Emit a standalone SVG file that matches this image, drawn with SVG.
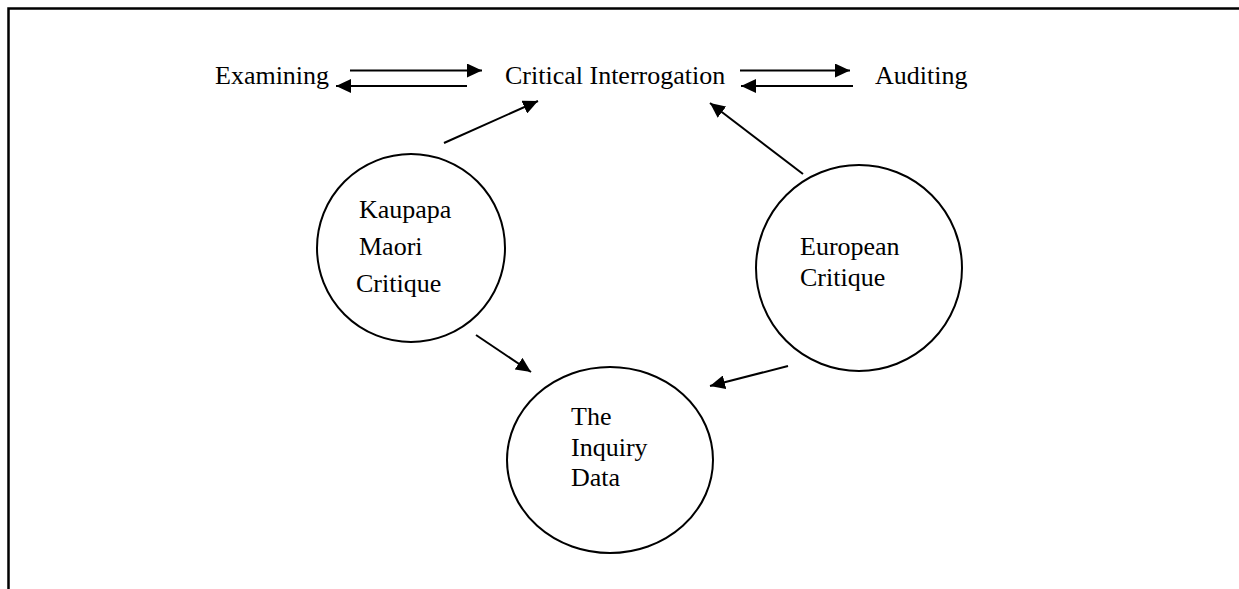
<svg xmlns="http://www.w3.org/2000/svg" width="1239" height="589" viewBox="0 0 1239 589">
<defs>
<marker id="ah" markerUnits="userSpaceOnUse" markerWidth="16" markerHeight="14" refX="15" refY="7" orient="auto">
<path d="M0,0 L15,7 L0,14 Z" fill="#000"/>
</marker>
<style>
.t{font-family:"Liberation Serif","Times New Roman",serif;font-size:26px;fill:#000}
.c{fill:none;stroke:#000;stroke-width:2}
.a{stroke:#000;stroke-width:2;fill:none;marker-end:url(#ah)}
</style>
</defs>
<rect width="1239" height="589" fill="#fff"/>
<g id="frame">
<path d="M8.5,589 V8.5 H1239" fill="none" stroke="#000" stroke-width="2.5"/>
</g>
<g id="examining"><text class="t" x="215" y="84">Examining</text></g>
<g id="critical-interrogation"><text class="t" x="505" y="84">Critical Interrogation</text></g>
<g id="auditing"><text class="t" x="875" y="84">Auditing</text></g>
<g id="kaupapa">
<circle class="c" cx="411" cy="248" r="94"/>
<text class="t" x="359" y="218">Kaupapa</text>
<text class="t" x="359" y="255">Maori</text>
<text class="t" x="356" y="292">Critique</text>
</g>
<g id="european">
<circle class="c" cx="859" cy="268" r="103"/>
<text class="t" x="800" y="255">European</text>
<text class="t" x="800" y="286">Critique</text>
</g>
<g id="inquiry">
<ellipse class="c" cx="610" cy="460" rx="103" ry="93"/>
<text class="t" x="571" y="425">The</text>
<text class="t" x="571" y="456">Inquiry</text>
<text class="t" x="571" y="486">Data</text>
</g>
<g id="connectors">
<line class="a" x1="350" y1="70.5" x2="482" y2="70.5"/>
<line class="a" x1="467" y1="86" x2="336" y2="86"/>
<line class="a" x1="740" y1="70.5" x2="850" y2="70.5"/>
<line class="a" x1="853" y1="86" x2="741" y2="86"/>
<line class="a" x1="444" y1="143" x2="538" y2="101"/>
<line class="a" x1="803" y1="174" x2="710" y2="103"/>
<line class="a" x1="476" y1="335" x2="531" y2="372"/>
<line class="a" x1="788" y1="366" x2="710" y2="386"/>
</g>
</svg>
